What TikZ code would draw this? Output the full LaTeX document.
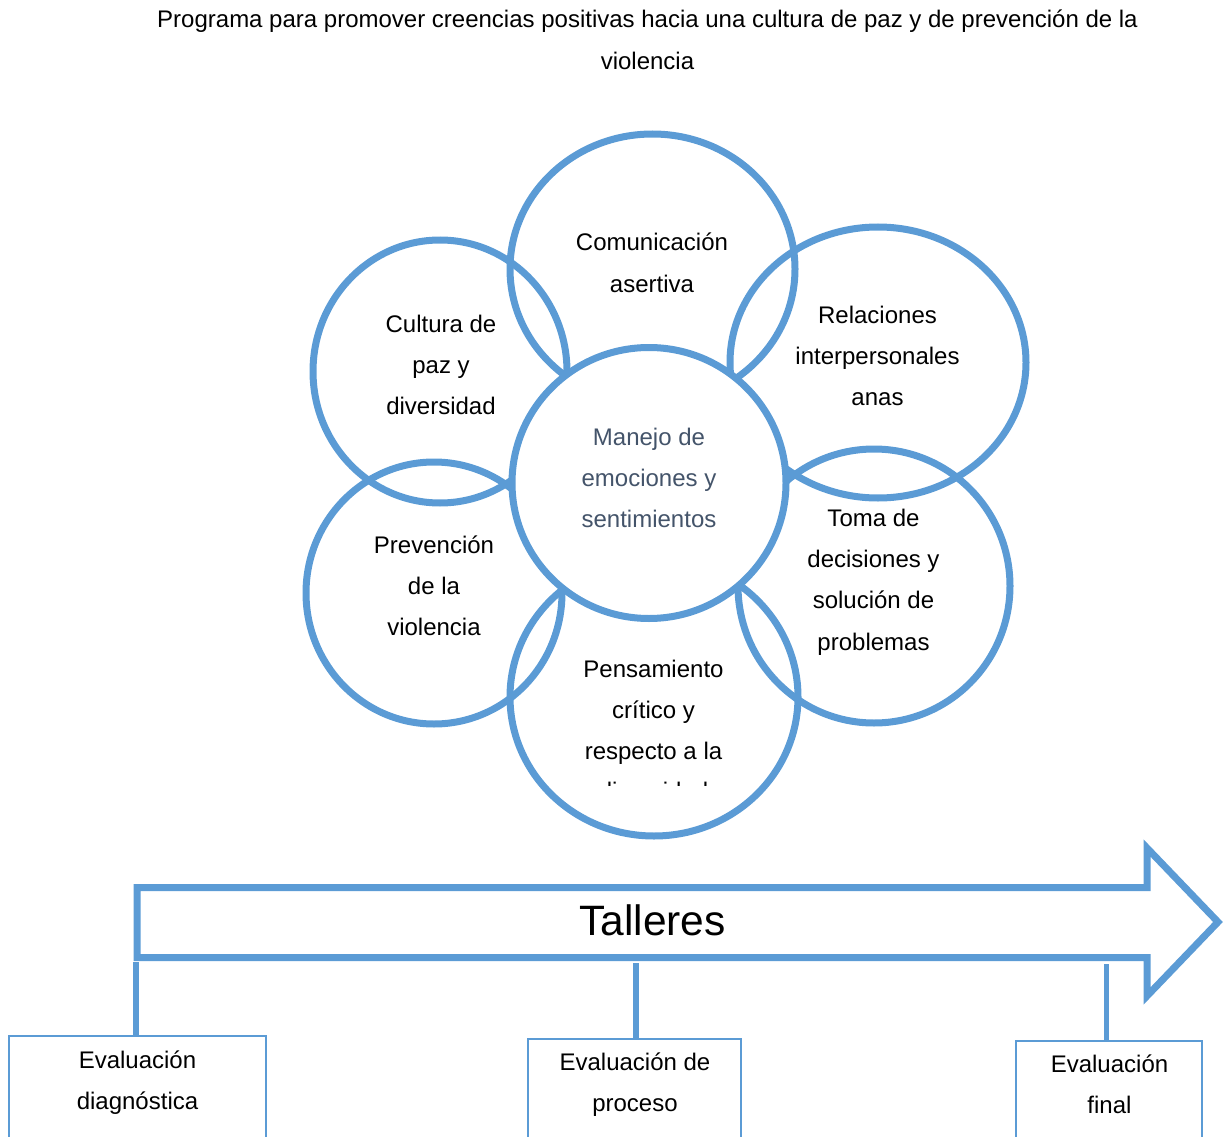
\documentclass[tikz,border=0pt]{standalone}
\usepackage{fontspec}
\setmainfont{Liberation Sans}
\usetikzlibrary{shapes.geometric}
\definecolor{ringblue}{HTML}{5B9BD5}
\definecolor{slate}{HTML}{44546A}
\newcommand{\mlines}[1]{\begin{tabular}[t]{@{}c@{}}#1\end{tabular}}
\begin{document}
\begin{tikzpicture}[x=1pt,y=-1pt,
  ring/.style={ellipse, draw=ringblue, line width=7pt, inner sep=0pt},
  hub/.style={ring, fill=white},
  lbl/.style={anchor=base, inner sep=0pt, font=\fontsize{24}{41.4}\selectfont},
  evalbox/.style={draw=ringblue, line width=1.5pt, anchor=north, minimum height=170, inner sep=0pt},
  link/.style={draw=ringblue, line width=5.5pt},
  banner/.style={draw=ringblue, line width=7pt, line join=miter}]
\useasboundingbox (0,0) rectangle (1227,1137);
\clip (0,0) rectangle (1227,1137);

% title
\node[lbl] (title) at (647.5,28) {\mlines{Programa para promover creencias positivas hacia una cultura de paz y de prevenci\'on de la\\violencia}};

% outer rings
\node[ring, minimum width=285, minimum height=270] (ccom) at (652.5,269) {};
\node[ring, minimum width=254, minimum height=263] (ccul) at (440,371.5) {};
\node[ring, minimum width=296, minimum height=271] (crel) at (878,362.5) {};
\node[ring, minimum width=256, minimum height=262] (cpre) at (434,593) {};
\node[ring, minimum width=272, minimum height=274] (ctom) at (874,586) {};
\node[ring, minimum width=288, minimum height=278] (cpen) at (654,697) {};
% hub
\node[hub, minimum width=274, minimum height=271] (chub) at (649,483) {};

% ring texts
\node[lbl] (tcom) at (652,251) {\mlines{Comunicación\\asertiva}};
\node[lbl] (tcul) at (441,332) {\mlines{Cultura de\\paz y\\diversidad}};
\node[lbl] (trel) at (877.5,323) {\mlines{Relaciones\\interpersonales\\anas}};
\node[lbl, text=slate] (thub) at (649,445) {\mlines{Manejo de\\emociones y\\sentimientos}};
\node[lbl] (tpre) at (434,553) {\mlines{Prevención\\de la\\violencia}};
\node[lbl] (ttom) at (873.5,526) {\mlines{Toma de\\decisiones y\\solución de\\problemas}};
\node[lbl] (tpen) at (653.5,677) {\mlines{Pensamiento\\crítico y\\respecto a la}};
\begin{scope}
\clip (500,600) rectangle (810,785);
\node[lbl] (tpen4) at (653.5,799.5) {diversidad};
\end{scope}

% banner arrow
\draw[banner] (137,887.5) -- (1147,887.5) -- (1147,848) -- (1218,922) -- (1147,996) -- (1147,957.5) -- (137,957.5) -- cycle;
\node[anchor=base, inner sep=0pt, font=\fontsize{42.5}{50}\selectfont] (tal) at (652.5,935) {Talleres};
\coordinate (a1) at (136,962);
\coordinate (a2) at (636,963);
\coordinate (a3) at (1106.5,964);

% evaluation boxes
\node[evalbox, minimum width=257] (e1) at (137.5,1035) {};
\node[evalbox, minimum width=213] (e2) at (634.5,1038) {};
\node[evalbox, minimum width=186] (e3) at (1109,1040) {};
\node[lbl] (e1t) at (137.5,1068) {\mlines{Evaluación\\diagnóstica}};
\node[lbl] (e2t) at (635,1070.5) {\mlines{Evaluación de\\proceso}};
\node[lbl] (e3t) at (1109.5,1072) {\mlines{Evaluación\\final}};

\draw[link] (a1) -- (a1 |- e1.north);
\draw[link] (a2) -- (a2 |- e2.north);
\draw[link] (a3) -- (a3 |- e3.north);
\end{tikzpicture}
\end{document}
